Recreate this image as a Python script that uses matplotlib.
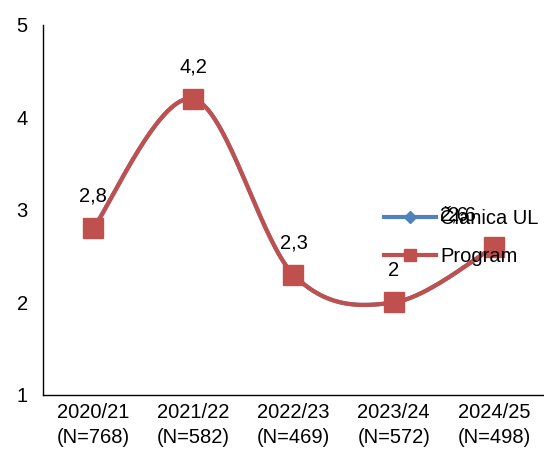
import matplotlib
matplotlib.use('Agg')
import matplotlib.pyplot as plt
from matplotlib.lines import Line2D
import numpy as np

plt.rcParams['font.family'] = ['Liberation Sans', 'DejaVu Sans']

# data
categories = ['2020/21\n(N=768)', '2021/22\n(N=582)', '2022/23\n(N=469)',
              '2023/24\n(N=572)', '2024/25\n(N=498)']
clanica_ul = [2.8, 4.2, 2.3, 2.0, 2.6]
program = [2.8, 4.2, 2.3, 2.0, 2.6]
labels = ['2,8', '4,2', '2,3', '2', '2,6']

BLUE = '#4F81BD'
RED = '#C0504D'
FS = 14.5


def smooth(xs, ys, n=40):
    """Excel-like smoothed line (Catmull-Rom bezier)."""
    pts = np.column_stack([xs, ys]).astype(float)
    pts[:, 1] *= 0.925  # roughly screen aspect
    out = []
    for i in range(len(pts) - 1):
        p0 = pts[max(i - 1, 0)]
        p1 = pts[i]
        p2 = pts[i + 1]
        p3 = pts[min(i + 2, len(pts) - 1)]
        c1 = p1 + (p2 - p0) / 6.0
        c2 = p2 - (p3 - p1) / 6.0
        t = np.linspace(0, 1, n)[:, None]
        seg = ((1 - t) ** 3) * p1 + 3 * ((1 - t) ** 2) * t * c1 + 3 * (1 - t) * t ** 2 * c2 + t ** 3 * p2
        out.append(seg if i == 0 else seg[1:])
    out = np.vstack(out)
    out[:, 1] /= 0.925
    return out[:, 0], out[:, 1]


x = np.arange(len(categories))

fig = plt.figure(figsize=(5.44, 4.54), dpi=100)
ax = fig.add_axes([0.079, 0.130, 0.921, 0.815])

sx, sy = smooth(x, clanica_ul)
ax.plot(sx, sy, color=BLUE, lw=3, solid_capstyle='round', zorder=2)
ax.plot(x, clanica_ul, ls='none', marker='D', ms=8, color=BLUE, zorder=3)

sx, sy = smooth(x, program)
ax.plot(sx, sy, color=RED, lw=3, solid_capstyle='round', zorder=4)
ax.plot(x, program, ls='none', marker='s', ms=14, color=RED, zorder=5)

for i, (xi, yi) in enumerate(zip(x, program)):
    if i == len(x) - 1:
        continue
    ax.annotate(labels[i], (xi, yi), xytext=(0, 32), textcoords='offset pixels',
                ha='center', va='center', fontsize=FS, zorder=6)
# last point: the two series' labels got pushed left by the legend
ax.annotate(labels[-1], (x[-1], program[-1]), xytext=(-40, 32), textcoords='offset pixels',
            ha='center', va='center', fontsize=FS, zorder=6)
ax.annotate(labels[-1], (x[-1], clanica_ul[-1]), xytext=(-32, 32), textcoords='offset pixels',
            ha='center', va='center', fontsize=FS, zorder=6)

ax.set_xlim(-0.5, 4.5)
ax.set_ylim(1, 5)
ax.set_yticks([1, 2, 3, 4, 5])
ax.set_xticks(x)
ax.set_xticklabels(categories, fontsize=FS, linespacing=1.4)
ax.tick_params(axis='y', length=0, pad=11, labelsize=FS)
ax.tick_params(axis='x', length=0, pad=6)
for s in ['top', 'right']:
    ax.spines[s].set_visible(False)
for s in ['left', 'bottom']:
    ax.spines[s].set_color('#000000')
    ax.spines[s].set_linewidth(1.0)

handles = [Line2D([], [], color=BLUE, lw=3, marker='D', ms=6),
           Line2D([], [], color=RED, lw=3, marker='s', ms=8)]
ax.legend(handles, ['Članica UL', 'Program'], loc='upper left',
          bbox_to_anchor=(0.66, 0.53), frameon=False, fontsize=FS,
          handlelength=2.6, handletextpad=0.2, labelspacing=0.95, borderpad=0)

fig.savefig('out.png', dpi=100)
